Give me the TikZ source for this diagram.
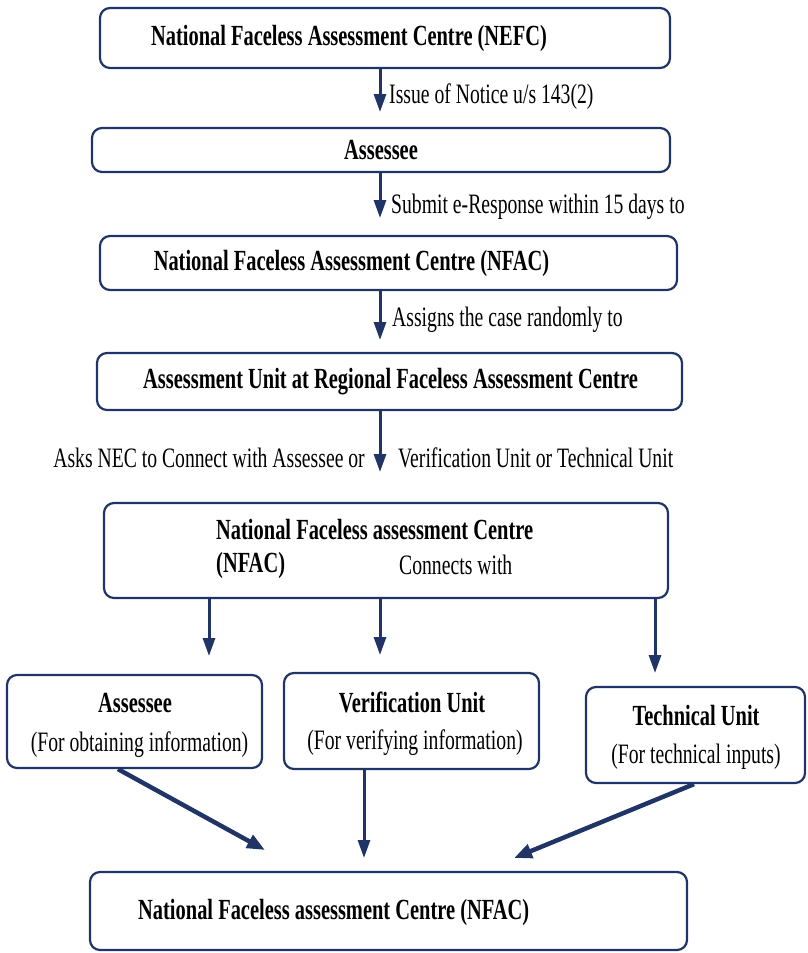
\documentclass[tikz,border=0pt]{standalone}
\usepackage{fontspec}
\setmainfont[FakeStretch=0.7]{Liberation Serif}
\usetikzlibrary{arrows.meta}

\definecolor{navy}{RGB}{32,52,104}

\tikzstyle{box} = [draw=navy, line width=2.2pt, rounded corners=10pt]
\tikzstyle{head} = [inner sep=0pt, font=\bfseries\fontsize{29.2}{34}\selectfont]
\tikzstyle{note} = [inner sep=0pt, font=\fontsize{28.1}{33}\selectfont]
\tikzstyle{flow} = [draw=navy, line width=3pt, -{Triangle[length=18pt,width=12pt]}]
\tikzstyle{thick flow} = [draw=navy, line width=4.5pt, -{Triangle[length=18pt,width=14pt]}]

\begin{document}
\begin{tikzpicture}[x=1pt, y=-1pt]
\useasboundingbox (0,0) rectangle (807,953);

% boxes
\node[box, minimum width=570pt, minimum height=60pt] (nefc) at (385,38) {};
\node[box, minimum width=578pt, minimum height=44pt] (assessee) at (381,150) {};
\node[box, minimum width=577pt, minimum height=54pt] (nfac) at (388.5,263) {};
\node[box, minimum width=585pt, minimum height=57pt] (unit) at (389.5,381.5) {};
\node[box, minimum width=564pt, minimum height=95pt] (connect) at (386,550.5) {};
\node[box, minimum width=255pt, minimum height=93pt] (info) at (134.5,721.5) {};
\node[box, minimum width=255pt, minimum height=96pt] (verify) at (411.5,721) {};
\node[box, minimum width=219pt, minimum height=96pt] (tech) at (695.5,735) {};
\node[box, minimum width=597pt, minimum height=78pt] (final) at (388.5,911) {};

% box texts
\node[head] (nefc text) at (349,38) {National Faceless Assessment Centre (NEFC)};
\node[head] (assessee text) at (381,150) {Assessee};
\node[head] (nfac text) at (351.5,263) {National Faceless Assessment Centre (NFAC)};
\node[head] (unit text) at (390.5,382) {Assessment Unit at Regional Faceless Assessment Centre};
\node[head, anchor=west] (connect text) at (216,530) {National Faceless assessment Centre};
\node[head, anchor=west] (connect abbr) at (216,565) {(NFAC)};
\node[note, anchor=west] (connect with) at (399,565) {Connects with};
\node[head] (info text) at (135,703) {Assessee};
\node[note] (info sub) at (139.5,745) {(For obtaining information)};
\node[head] (verify text) at (412,702) {Verification Unit};
\node[note] (verify sub) at (415,743) {(For verifying information)};
\node[head] (tech text) at (696,716) {Technical Unit};
\node[note] (tech sub) at (696,757) {(For technical inputs)};
\node[head, anchor=west] (final text) at (138,912) {National Faceless assessment Centre (NFAC)};

% arrow tips
\coordinate (tip1) at (380,112);
\coordinate (tip2) at (380,218);
\coordinate (tip3) at (380,340);
\coordinate (tip4) at (380,472);
\coordinate (tip5) at (209,656);
\coordinate (tip6) at (380,655);
\coordinate (tip7) at (655,673);
\coordinate (tip8) at (265,850);
\coordinate (tip9) at (364,858);
\coordinate (tip10) at (514,858);

% connectors
\draw[flow] (nefc.south -| tip1) -- (tip1);
\draw[flow] (assessee.south -| tip2) -- (tip2);
\draw[flow] (nfac.south -| tip3) -- (tip3);
\draw[flow] (unit.south -| tip4) -- (tip4);
\draw[flow] (connect.south -| tip5) -- (tip5);
\draw[flow] (connect.south -| tip6) -- (tip6);
\draw[flow] (connect.south -| tip7) -- (tip7);
\draw[thick flow] ([xshift=-16.5pt]info.south) -- (tip8);
\draw[flow] (verify.south -| tip9) -- (tip9);
\draw[thick flow] ([xshift=-1.5pt]tech.south) -- (tip10);

% connector labels
\node[note, anchor=west] (notice) at (389,97) {Issue of Notice u/s 143(2)};
\node[note, anchor=west] (response) at (391,207) {Submit e-Response within 15 days to};
\node[note, anchor=west] (random) at (392,320) {Assigns the case randomly to};
\node[note, anchor=east] (asks) at (365,458) {Asks NEC to Connect with Assessee or};
\node[note, anchor=west] (units) at (398,458) {Verification Unit or Technical Unit};
\end{tikzpicture}
\end{document}
